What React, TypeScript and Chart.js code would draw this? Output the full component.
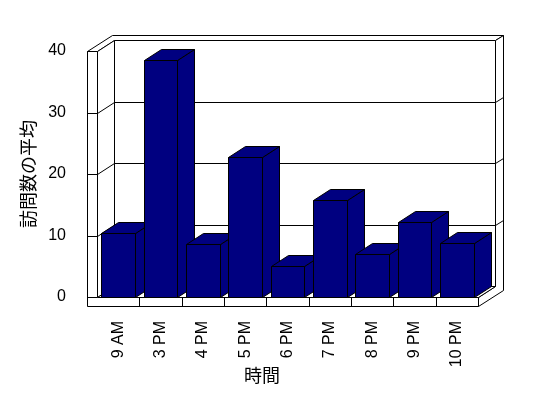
import React, { useEffect, useRef } from 'react';
import { Chart, registerables } from 'chart.js';

Chart.register(...registerables);

// ---- data ----
const categories = ['9 AM', '3 PM', '4 PM', '5 PM', '6 PM', '7 PM', '8 PM', '9 PM', '10 PM'];
const visits = [10.4, 38.6, 8.6, 22.8, 5.1, 15.8, 7.0, 12.2, 8.7];
const yMin = 0;
const yMax = 40;
const yStep = 10;
const yTitle = '訪問数の平均';
const xTitle = '時間';

// ---- style ----
const BAR_COLOR = '#000080';
const LINE = '#000000';
const LATIN = "'Liberation Sans', Arial, sans-serif";
const CJK = "'Noto Sans CJK JP', 'Noto Sans CJK SC', sans-serif";
const DEPTH_X = 17;
const DEPTH_Y = 11;
const WALL_X = 8;
const WALL_Y = 5;
const SIDE_WALL = 10;
const FLOOR = 9;

type Pt = [number, number];

function poly(ctx: CanvasRenderingContext2D, pts: Pt[], fill: string | null) {
  ctx.beginPath();
  pts.forEach(([x, y], i) => {
    if (i === 0) ctx.moveTo(x + 0.5, y + 0.5);
    else ctx.lineTo(x + 0.5, y + 0.5);
  });
  ctx.closePath();
  if (fill) {
    ctx.fillStyle = fill;
    ctx.fill();
  }
  ctx.strokeStyle = LINE;
  ctx.lineWidth = 1;
  ctx.stroke();
}

function line(ctx: CanvasRenderingContext2D, pts: Pt[]) {
  ctx.beginPath();
  pts.forEach(([x, y], i) => {
    if (i === 0) ctx.moveTo(x + 0.5, y + 0.5);
    else ctx.lineTo(x + 0.5, y + 0.5);
  });
  ctx.strokeStyle = LINE;
  ctx.lineWidth = 1;
  ctx.stroke();
}

const box3d = {
  id: 'box3d',
  beforeDatasetsDraw(chart: any) {
    const { ctx, chartArea: a, scales } = chart;
    const L = Math.round(a.left);
    const R = Math.round(a.right);
    const T = Math.round(a.top);
    const B = Math.round(a.bottom);
    const LO = L - SIDE_WALL;
    const BO = B + FLOOR;
    const dx = DEPTH_X, dy = DEPTH_Y;
    const fx = DEPTH_X + WALL_X, fy = DEPTH_Y + WALL_Y;
    ctx.save();
    // back wall front face
    poly(ctx, [[L + dx, T - dy], [R + dx, T - dy], [R + dx, B - dy], [L + dx, B - dy]], '#ffffff');
    // top faces (left wall + back wall)
    poly(ctx, [[LO, T], [L, T], [L + dx, T - dy], [R + dx, T - dy], [R + fx, T - fy], [LO + fx, T - fy]], '#ffffff');
    // right faces (back wall + floor)
    poly(ctx, [[R, B], [R, BO], [R + fx, BO - fy], [R + fx, T - fy], [R + dx, T - dy], [R + dx, B - dy]], '#ffffff');
    // left wall inner face
    poly(ctx, [[L, T], [L + dx, T - dy], [L + dx, B - dy], [L, B]], '#ffffff');
    // floor top
    poly(ctx, [[L, B], [R, B], [R + dx, B - dy], [L + dx, B - dy]], '#ffffff');
    // front L (left wall front + floor front)
    poly(ctx, [[LO, T], [L, T], [L, B], [R, B], [R, BO], [LO, BO]], '#ffffff');

    // grid lines
    const ys = scales.y;
    for (let v = yMin; v <= yMax; v += yStep) {
      const y = Math.round(ys.getPixelForValue(v));
      line(ctx, [[LO, y], [L, y]]);
      if (v > yMin && v < yMax) {
        line(ctx, [[L, y], [L + dx, y - dy], [R + dx, y - dy], [R + fx, y - fy]]);
      }
    }
    // category separators on floor front
    const xs = scales.x;
    for (let i = 1; i < categories.length; i++) {
      const x = Math.round((xs.getPixelForValue(i - 1) + xs.getPixelForValue(i)) / 2);
      line(ctx, [[x, B], [x, BO]]);
    }
    ctx.restore();
  },
  afterDatasetsDraw(chart: any) {
    const { ctx } = chart;
    const meta = chart.getDatasetMeta(0);
    const dx = DEPTH_X, dy = DEPTH_Y;
    ctx.save();
    meta.data.forEach((el: any) => {
      const p = el.getProps(['x', 'y', 'base', 'width'], true);
      const xl = Math.round(p.x - p.width / 2);
      const xr = Math.round(p.x + p.width / 2);
      const yt = Math.round(p.y);
      const yb = Math.round(p.base);
      poly(ctx, [[xr, yt], [xr + dx, yt - dy], [xr + dx, yb - dy], [xr, yb]], BAR_COLOR);
      poly(ctx, [[xl, yt], [xr, yt], [xr + dx, yt - dy], [xl + dx, yt - dy]], BAR_COLOR);
      poly(ctx, [[xl, yt], [xr, yt], [xr, yb], [xl, yb]], BAR_COLOR);
    });
    ctx.restore();
  },
  afterDraw(chart: any) {
    const { ctx } = chart;
    ctx.save();
    ctx.fillStyle = '#000';
    ctx.font = `18px ${CJK}`;
    ctx.textAlign = 'center';
    ctx.textBaseline = 'middle';
    ctx.fillText(xTitle, 262, 375);
    ctx.restore();
  },
};

export default function App() {
  const ref = useRef<HTMLCanvasElement | null>(null);
  useEffect(() => {
    document.body.style.margin = '0';
    const canvas = ref.current;
    if (!canvas) return;
    const chart = new Chart(canvas, {
      type: 'bar',
      data: {
        labels: categories,
        datasets: [
          {
            label: yTitle,
            data: visits,
            backgroundColor: 'rgba(0,0,0,0)',
            borderWidth: 0,
            categoryPercentage: 0.8,
            barPercentage: 1,
          },
        ],
      },
      options: {
        responsive: false,
        animation: false,
        devicePixelRatio: 1,
        layout: { padding: { left: 0, right: 70, top: 51, bottom: 0 } },
        plugins: {
          legend: { display: false },
          tooltip: { enabled: false },
        },
        scales: {
          x: {
            grid: { display: false },
            border: { display: false },
            ticks: {
              color: '#000',
              font: { family: LATIN, size: 16 },
              minRotation: 90,
              maxRotation: 90,
              padding: 16,
              autoSkip: false,
            },
            afterFit(s: any) {
              s.height = 101;
            },
          },
          y: {
            min: yMin,
            max: yMax,
            grid: { display: false },
            border: { display: false },
            ticks: {
              stepSize: yStep,
              color: '#000',
              font: { family: LATIN, size: 16 },
              padding: 23,
            },
            title: {
              display: true,
              text: yTitle,
              color: '#000',
              font: { family: CJK, size: 18 },
              padding: { top: 17.5, bottom: 0 },
            },
            afterFit(s: any) {
              s.width = 97;
            },
          },
        },
      },
      plugins: [box3d],
    });
    return () => chart.destroy();
  }, []);
  return (
    <div style={{ position: 'fixed', left: 0, top: 0, width: 548, height: 398, background: '#fff' }}>
      <canvas ref={ref} width={548} height={398} style={{ display: 'block', width: 548, height: 398 }} />
    </div>
  );
}
